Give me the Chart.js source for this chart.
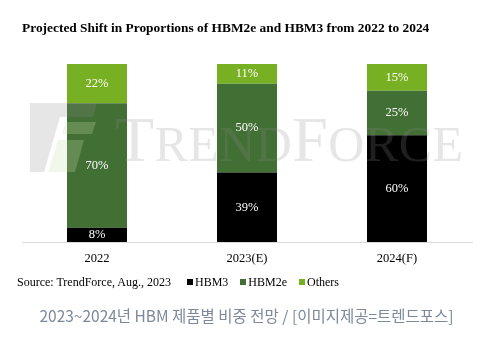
<!DOCTYPE html>
<html>
<head>
<meta charset="utf-8">
<script src="https://cdn.jsdelivr.net/npm/chart.js@4"></script>
<style>
  body { margin: 0; background: #fff; }
  #wrap { position: relative; width: 485px; height: 343px; overflow: hidden; }
  #chartBox { position: absolute; left: 0; top: 0; width: 485px; height: 279px; }
  #legendRow { position: absolute; left: 17px; top: 275px; font: 12px "Liberation Serif", serif; color: #000; white-space: nowrap; }
  #legendRow .item { margin-left: 12px; }
  #legendRow .item:first-child { margin-left: 16px; }
  #legendRow .sq { display: inline-block; width: 6px; height: 6px; margin-right: 2px; vertical-align: 1px; }
  #caption { position: absolute; left: 0; width: 493px; top: 304px; text-align: center; font: 15.5px "Noto Sans CJK KR", sans-serif; color: #7d889a; }
</style>
</head>
<body>
<div id="wrap">
  <div id="chartBox"><canvas id="c"></canvas></div>
  <div id="legendRow"></div>
  <div id="caption">2023~2024년 HBM 제품별 비중 전망 / [이미지제공=트렌드포스]</div>
</div>
<script>
// データ
const years = ['2022', '2023(E)', '2024(F)'];
const hbm3 = [8, 39, 60];
const hbm2e = [70, 50, 25];
const others = [22, 11, 15];
const seriesNames = ['HBM3', 'HBM2e', 'Others'];
const seriesColors = ['#000000', '#426f34', '#77b023'];

// 凡例 (Source + 系列)
const legendRow = document.getElementById('legendRow');
let html = 'Source: TrendForce, Aug., 2023';
seriesNames.forEach((name, i) => {
    html += `<span class="item"><span class="sq" style="background:${seriesColors[i]}"></span>${name}</span>`;
});
legendRow.innerHTML = html;

// 透かしロゴ
const watermark = {
    id: 'watermark',
    afterDatasetsDraw(chart) {
        const ctx = chart.ctx;
        ctx.save();
        ctx.fillStyle = 'rgba(140,140,140,0.22)';
        // logo
        ctx.beginPath();
        ctx.moveTo(30, 103); ctx.lineTo(97, 103); ctx.lineTo(93, 117);
        ctx.lineTo(60, 117); ctx.lineTo(44, 172); ctx.lineTo(30, 172);
        ctx.closePath();
        ctx.fill();
        ctx.fillStyle = 'rgba(200,225,170,0.25)';
        ctx.beginPath();
        ctx.moveTo(66, 122); ctx.lineTo(96, 122); ctx.lineTo(92, 134);
        ctx.lineTo(62, 134); ctx.closePath(); ctx.fill();
        ctx.beginPath();
        ctx.moveTo(58, 140); ctx.lineTo(84, 140); ctx.lineTo(75, 172);
        ctx.lineTo(48, 172); ctx.closePath(); ctx.fill();
        // text: fit "TRENDFORCE" between x=115 and x=463
        ctx.fillStyle = 'rgba(140,140,140,0.22)';
        ctx.textBaseline = 'alphabetic';
        ctx.textAlign = 'left';
        const parts = [['T', 64], ['REND', 50], ['F', 64], ['ORCE', 50]];
        const chars = [];
        parts.forEach(([t, size]) => {
            for (const ch of t) chars.push([ch, size]);
        });
        let natural = 0;
        chars.forEach(([ch, size]) => {
            ctx.font = size + 'px "Liberation Serif", serif';
            natural += ctx.measureText(ch).width;
        });
        const gap = (463 - 115 - natural) / (chars.length - 1);
        let x = 115;
        chars.forEach(([ch, size]) => {
            ctx.font = size + 'px "Liberation Serif", serif';
            ctx.fillText(ch, x, 161);
            x += ctx.measureText(ch).width + gap;
        });
        ctx.restore();
    }
};

// 棒の中の数値ラベル
const barLabels = {
    id: 'barLabels',
    afterDatasetsDraw(chart) {
        const ctx = chart.ctx;
        ctx.save();
        ctx.fillStyle = '#ffffff';
        ctx.font = '12.5px "Liberation Serif", serif';
        ctx.textAlign = 'center';
        ctx.textBaseline = 'middle';
        chart.data.datasets.forEach((ds, di) => {
            chart.getDatasetMeta(di).data.forEach((bar, i) => {
                const y = (bar.y + bar.base) / 2;
                ctx.fillText(ds.data[i] + '%', bar.x, y);
            });
        });
        ctx.restore();
    }
};

new Chart(document.getElementById('c'), {
    type: 'bar',
    data: {
        labels: years,
        datasets: [
            { label: seriesNames[0], data: hbm3, backgroundColor: seriesColors[0] },
            { label: seriesNames[1], data: hbm2e, backgroundColor: seriesColors[1] },
            { label: seriesNames[2], data: others, backgroundColor: seriesColors[2] }
        ]
    },
    options: {
        responsive: true,
        maintainAspectRatio: false,
        animation: false,
        datasets: { bar: { barPercentage: 0.4, categoryPercentage: 1 } },
        layout: { padding: { left: 22, right: 13, top: 0, bottom: 4 } },
        plugins: {
            legend: { display: false },
            tooltip: { enabled: false },
            title: {
                display: true,
                text: 'Projected Shift in Proportions of HBM2e and HBM3 from 2022 to 2024',
                align: 'start',
                color: '#000',
                font: { family: '"Liberation Serif", serif', size: 13.4, weight: 'bold' },
                padding: { top: 21, bottom: 27 }
            }
        },
        scales: {
            x: {
                stacked: true,
                grid: { display: false, drawTicks: false },
                border: { display: true, color: '#d9d9d9', width: 1 },
                ticks: { color: '#000', padding: 9, font: { family: '"Liberation Serif", serif', size: 12.5 } }
            },
            y: {
                stacked: true,
                display: false,
                min: 0,
                max: 100
            }
        }
    },
    plugins: [watermark, barLabels]
});
</script>
</body>
</html>
